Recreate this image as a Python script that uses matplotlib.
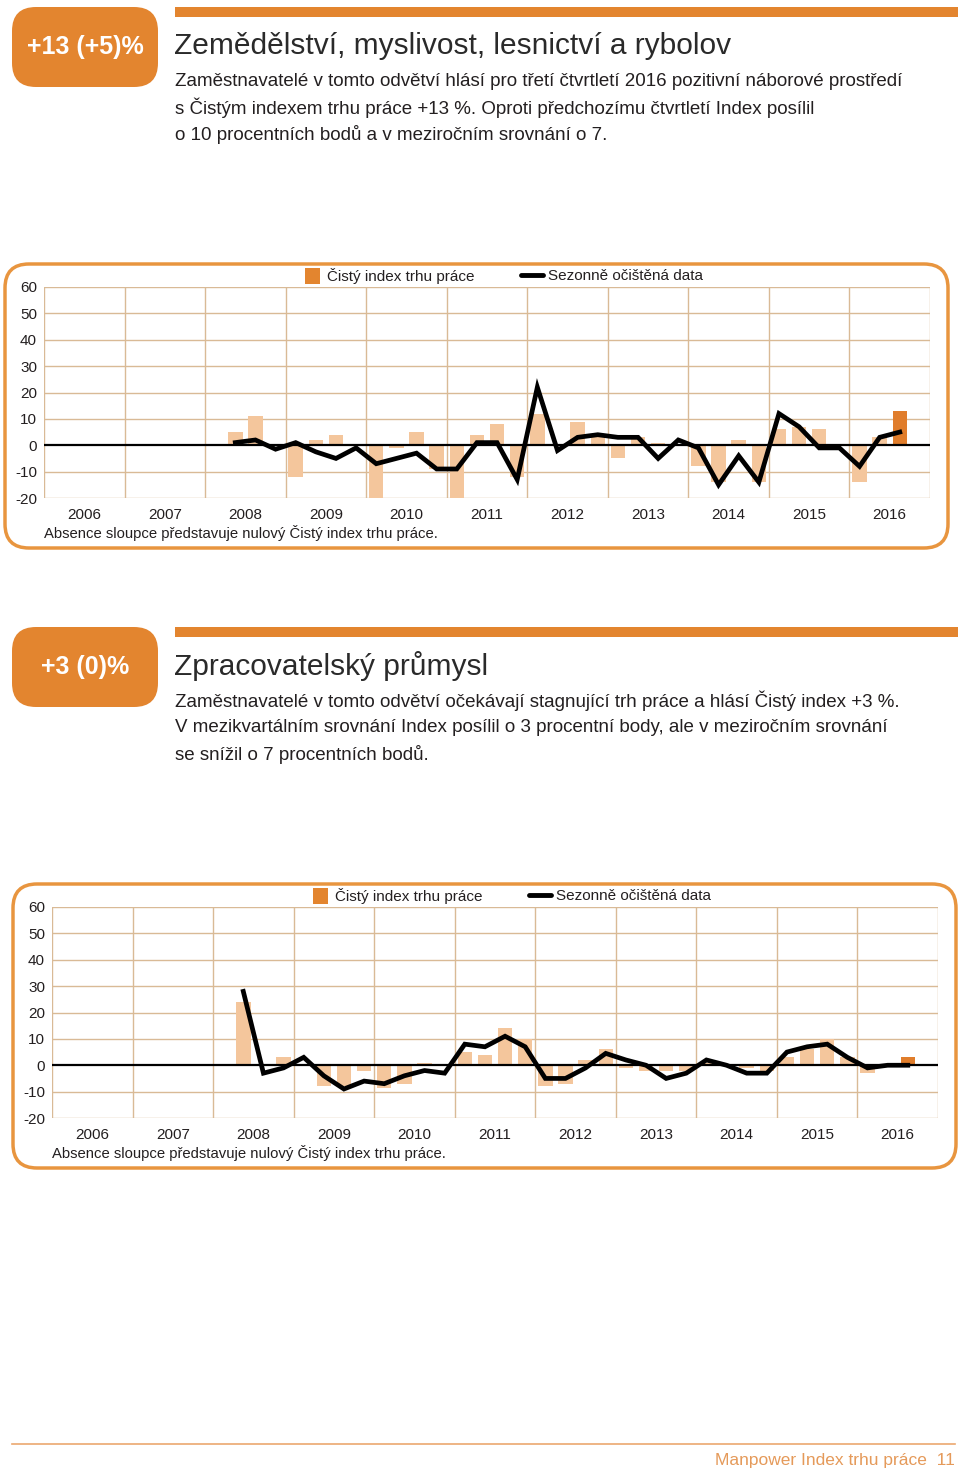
import matplotlib
matplotlib.use("Agg")
import matplotlib.pyplot as plt
import numpy as np
from matplotlib.patches import FancyBboxPatch, Rectangle

plt.rcParams['font.family'] = ['Liberation Sans', 'DejaVu Sans']
plt.rcParams['axes.unicode_minus'] = False

# ---- data (quarters 2008 Q2 .. 2016 Q3) ----
years = list(range(2006, 2017))
start_year, start_q = 2008, 2

bars_agri = [5, 11, 0,
             -12, 2, 4, 0,
             -20, -1, 5, -9,
             -20, 4, 8, -12,
             12, 0, 9, 3,
             -5, 3, 1, 0,
             -8, -14, 2, -14,
             6, 7, 6, 0,
             -14, 3, 13]
line_agri = [1, 2, -1.5,
             1, -2.5, -5, -1,
             -7, -5, -3, -9,
             -9, 1, 1, -13,
             22, -2, 3, 4,
             3, 3, -5, 2,
             -1, -15, -4, -14,
             12, 7, -1, -1,
             -8, 3, 5]

bars_manu = [24, 0, 3,
             0, -8, -8, -2,
             -8.5, -7, 1, 0,
             5, 4, 14, 10,
             -8, -7, 2, 6,
             -1, -2, -2, -2,
             1, 0, -1, -2,
             3, 6, 10, 3,
             -3, 0, 3]
line_manu = [28, -3, -1,
             3, -4, -9, -6,
             -7, -4, -2, -3,
             8, 7, 11, 7,
             -5, -5, -1, 4.5,
             2, 0, -5, -3,
             2, 0, -3, -3,
             5, 7, 8, 3,
             -1, 0, 0]

yticks = [60, 50, 40, 30, 20, 10, 0, -10, -20]

badge_agri = "+13 (+5)%"
title_agri = "Zemědělství, myslivost, lesnictví a rybolov"
body_agri = ["Zaměstnavatelé v tomto odvětví hlásí pro třetí čtvrtletí 2016 pozitivní náborové prostředí",
             "s Čistým indexem trhu práce +13 %. Oproti předchozímu čtvrtletí Index posílil",
             "o 10 procentních bodů a v meziročním srovnání o 7."]

badge_manu = "+3 (0)%"
title_manu = "Zpracovatelský průmysl"
body_manu = ["Zaměstnavatelé v tomto odvětví očekávají stagnující trh práce a hlásí Čistý index +3 %.",
             "V mezikvartálním srovnání Index posílil o 3 procentní body, ale v meziročním srovnání",
             "se snížil o 7 procentních bodů."]

leg_bar = "Čistý index trhu práce"
leg_line = "Sezonně očištěná data"
note = "Absence sloupce představuje nulový Čistý index trhu práce."
footer = "Manpower Index trhu práce  11"

ORANGE = '#E3852F'
BORDER = '#E8953F'
BAR = '#F4C69C'
BAR_LAST = '#E07D2B'
GRID = '#D9BA96'
TXT = '#231F20'

W, H = 960, 1472
fig = plt.figure(figsize=(W / 100, H / 100), dpi=100)
bg = fig.add_axes([0, 0, 1, 1])
bg.set_xlim(0, W)
bg.set_ylim(H, 0)
bg.axis('off')


def quarter_x(n):
    xs = []
    y, q = start_year, start_q
    for _ in range(n):
        xs.append(y + (q - 0.5) / 4)
        q += 1
        if q > 4:
            q = 1
            y += 1
    return np.array(xs)


def section(dy, badge, title, body):
    bg.add_patch(FancyBboxPatch((12, 7 + dy), 146, 80, boxstyle="round,pad=0,rounding_size=24",
                                fc=ORANGE, ec='none'))
    bg.text(85, 47 + dy, badge, color='white', fontsize=18, fontweight='bold',
            ha='center', va='center')
    bg.add_patch(Rectangle((175, 7 + dy), 783, 10, fc=ORANGE, ec='none'))
    bg.text(174, 46 + dy, title, color='#2a2a2a', fontsize=21.5, ha='left', va='center')
    for i, line in enumerate(body):
        bg.text(175, 81 + dy + i * 27, line, color=TXT, fontsize=13.5, ha='left', va='center')


def chart(box_x, box_y, ax_left, bars, line):
    # rounded frame
    bg.add_patch(FancyBboxPatch((box_x, box_y), 943, 284, boxstyle="round,pad=0,rounding_size=24",
                                fc='white', ec=BORDER, lw=2.5))
    top, bottom = box_y + 23, box_y + 234
    ax = fig.add_axes([ax_left / W, 1 - bottom / H, 886 / W, (bottom - top) / H])
    ax.set_facecolor('none')
    x = quarter_x(len(bars))
    colors = [BAR] * (len(bars) - 1) + [BAR_LAST]
    ax.bar(x, bars, width=0.18, color=colors, zorder=2)
    ax.axhline(0, color='black', lw=1.6, zorder=3)
    ax.plot(x, line, color='black', lw=3.4, solid_joinstyle='miter', zorder=4)
    ax.set_xlim(2006, 2017)
    ax.set_ylim(-20, 60)
    ax.set_yticks(yticks)
    ax.set_xticks([yr + 0.5 for yr in years])
    ax.set_xticklabels([str(yr) for yr in years])
    for yr in range(2006, 2018):
        ax.axvline(yr, color=GRID, lw=1, zorder=1)
    for t in yticks:
        if t != 0:
            ax.axhline(t, color=GRID, lw=1, zorder=1)
    for s in ax.spines.values():
        s.set_visible(False)
    ax.tick_params(length=0, labelsize=11, labelcolor=TXT)
    ax.tick_params(axis='y', pad=5)
    ax.tick_params(axis='x', pad=7)
    # legend
    lx = ax_left + 261
    bg.add_patch(Rectangle((lx, box_y + 4), 15, 16, fc=ORANGE, ec='none'))
    bg.text(lx + 22, box_y + 12, leg_bar, fontsize=11, color=TXT, va='center', ha='left')
    bg.plot([lx + 216, lx + 238], [box_y + 11, box_y + 11], color='black', lw=3.5,
            solid_capstyle='round')
    bg.text(lx + 243, box_y + 12, leg_line, fontsize=11, color=TXT, va='center', ha='left')
    bg.text(ax_left, box_y + 269, note, fontsize=10.7, color=TXT, va='center', ha='left')
    return ax


section(0, badge_agri, title_agri, body_agri)
chart(5, 264, 44, bars_agri, line_agri)
section(620, badge_manu, title_manu, body_manu)
chart(13, 884, 52, bars_manu, line_manu)

bg.plot([12, 955], [1444, 1444], color='#EBA870', lw=1.2)
bg.text(955, 1461, footer, fontsize=12.5, color='#E59A5A', ha='right', va='center')

fig.savefig('out.png', dpi=100)
